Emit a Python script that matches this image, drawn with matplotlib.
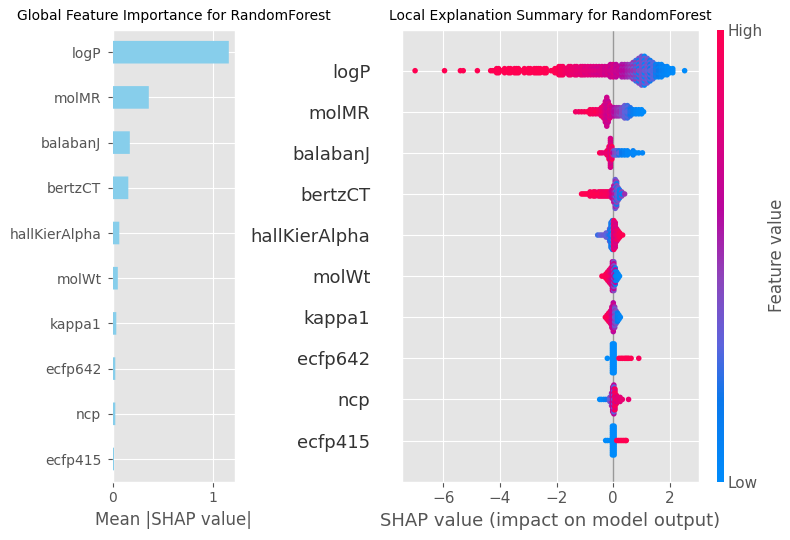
import matplotlib
matplotlib.use("Agg")
import matplotlib.pyplot as plt
from matplotlib.colors import LinearSegmentedColormap
from matplotlib.cm import ScalarMappable

features = ["logP", "molMR", "balabanJ", "bertzCT", "hallKierAlpha",
            "molWt", "kappa1", "ecfp642", "ncp", "ecfp415"]
mean_abs = [1.16, 0.36, 0.17, 0.155, 0.065, 0.05, 0.035, 0.025, 0.025, 0.012]

# Beeswarm: SHAP value, half stack height, feature values
logp_x = [-7.0, -5.96, -5.4, -5.3, -4.8, -4.33, -4.26, -4.19, -4.12, -4.05, -3.98, -3.91, -3.84, -3.77, -3.7, -3.63, -3.56, -3.49, -3.42, -3.35, -3.28, -3.21,
          -3.14, -3.07, -3.0, -2.93, -2.86, -2.79, -2.72, -2.65, -2.58, -2.51, -2.44, -2.37,
          -2.2, -2.13, -2.06, -1.99, -1.92, -1.85, -1.78, -1.71, -1.64, -1.57, -1.5, -1.43, -1.36, -1.29, -1.22, -1.15, -1.08, -1.0, -0.9, -0.8, -0.7, -0.6, -0.5, -0.4, -0.3, -0.2, -0.1, 0.0,
          0.1, 0.2, 0.3, 0.4, 0.5, 0.6, 0.7, 0.8, 0.9, 1.0, 1.1, 1.2, 1.3, 1.4, 1.5, 1.6, 1.7, 1.8, 1.9, 2.0, 2.1, 2.52]
logp_k = [0, 0, 0, 0, 0, 0, 0, 0, 1, 1, 0, 0, 1, 0, 1, 1, 0, 1, 1, 1, 0, 0,
          1, 0, 1, 1, 0, 1, 1, 1, 1, 0, 1, 1,
          0, 0, 1, 1, 2, 2, 2, 1, 1, 2, 2, 1, 2, 2, 1, 2, 2, 2, 2, 2, 2, 2, 2, 2, 2, 2, 3, 3,
          3, 2, 3, 3, 3, 3, 4, 5, 6, 7, 7, 6, 5, 4, 3, 3, 3, 2, 2, 1, 1, 0]
logp_f = [1, 1, 1, 1, 1, 1, 1, 1, 1, 1, 1, 1, 1, 1, 1, 1, 1, 1, 1, 1, 1, 1,
          1, 1, 1, 1, 1, 1, 1, 1, 1, 1, 1, 1,
          1, 1, 1, .98, .97, .95, .95, .93, .9, .9, .88, .87, .85, .85, .84, .83, .82, .82, .8, .8, .78, .78, .75, .75, .72, .72, .72, .7,
          .68, .65, .62, .6, .55, .52, .5, .48, .42, .4, .35, .32, .3, .28, .22, .18, .12, .08, .05, .03, .02, 0]
logp_g = [1, 1, 1, 1, 1, 1, 1, 1, 1, 1, 1, 1, 1, 1, 1, 1, 1, 1, 1, 1, 1, 1,
          1, 1, 1, 1, 1, 1, 1, 1, 1, 1, 1, 1,
          1, 1, 1, 1, 1, .9, .95, .9, .9, .85, .9, .82, .85, .8, .82, .78, .85, .75, .8, .75, .72, .7, .7, .75, .68, .75, .65, .75,
          .62, .7, .55, .55, .5, .45, .35, .25, .1, .38, .05, .4, .15, .3, .1, .1, .05, .05, .02, 0, 0, 0]

molmr_x = [-1.33, -1.22, -1.12, -1.02, -0.92, -0.82, -0.72, -0.62, -0.52, -0.42, -0.34, -0.28, -0.23, -0.18, -0.12, -0.05,
           0.03, 0.12, 0.2, 0.3, 0.4, 0.5, 0.6, 0.7, 0.8, 0.9, 1.0, 1.07]
molmr_k = [0, 0, 0, 0, 0, 1, 1, 1, 1, 2, 3, 5, 7, 5, 3, 2, 2, 2, 2, 2, 3, 3, 2, 1, 1, 1, 1, 0]
molmr_f = [.9, .9, .95, .95, 1, 1, .95, 1, .95, .9, .85, .75, .72, .72, .72, .68, .6, .52, .5, .42, .3, .3, .22, .12, .05, .03, .02, 0]
molmr_g = [.9, .9, .9, .95, .95, .95, .95, .9, .9, .8, .8, .7, .68, .65, .8, .75, .55, .5, .45, .38, .35, .25, .15, .1, .05, 0, 0, 0]

bal_x = [-0.48, -0.4, -0.3, -0.22, -0.15, -0.1, -0.05, 0.0, 0.06, 0.12, 0.2, 0.3, 0.4, 0.5, 0.6, 0.7, 0.8, 0.9, 1.03]
bal_k = [0, 0, 0, 1, 3, 7, 3, 1, 1, 1, 1, 1, 1, 1, 0, 1, 0, 0, 0]
bal_f = [1, .85, .85, .85, .82, .78, .85, .6, .45, .38, .3, .18, .12, .05, .04, .03, .03, .02, .05]
bal_g = [1, .9, .8, .9, 1, .72, 1, .45, .3, .3, .2, .1, .05, .05, .1, .1, .05, 0, .05]

bertz_x = [-1.12, -1.06, -1.0, -0.94, -0.88, -0.82, -0.76, -0.7, -0.64, -0.58, -0.52, -0.46, -0.4, -0.34, -0.28, -0.22, -0.16, -0.1, -0.05, 0.02, 0.07, 0.12, 0.17, 0.22, 0.3, 0.4]
bertz_k = [0, 0, 0, 0, 0, 1, 0, 1, 1, 0, 1, 1, 1, 1, 1, 1, 1, 1, 2, 4, 7, 6, 3, 2, 1, 0]
bertz_f = [1, 1, 1, 1, 1, 1, 1, 1, 1, 1, 1, 1, .97, .97, .95, .95, .92, .9, .75, .72, .55, .45, .3, .2, .1, .5]
bertz_g = [1, 1, 1, 1, 1, .95, 1, 1, .95, 1, .9, 1, .9, .95, .9, .95, .95, .8, .65, .55, .35, .2, .4, .1, .45, .55]

hall_x = [-0.55, -0.47, -0.4, -0.32, -0.25, -0.18, -0.13, -0.08, -0.03, 0.02, 0.07, 0.12, 0.17, 0.23, 0.33]
hall_k = [0, 0, 0, 0, 1, 1, 3, 6, 7, 7, 6, 3, 2, 1, 0]
hall_f = [.25, .3, .33, .35, .3, .25, .2, .2, .3, .7, .8, .9, .9, .95, 1]
hall_g = [.25, .3, .35, .3, .35, .3, .35, .1, .15, .95, .72, .75, .85, 1, 1]

wt_x = [-0.4, -0.33, -0.26, -0.2, -0.14, -0.08, -0.03, 0.02, 0.07, 0.12, 0.17, 0.22]
wt_k = [0, 0, 1, 2, 3, 4, 7, 7, 4, 2, 1, 0]
wt_f = [1, 1, .98, .95, .95, .9, .72, .65, .12, .05, .03, .02]
wt_g = [1, .95, 1, 1, .85, .75, .6, .4, .6, .2, .05, .02]

kap_x = [-0.28, -0.22, -0.16, -0.1, -0.05, 0.0, 0.05, 0.1, 0.15, 0.2, 0.25]
kap_k = [0, 1, 2, 3, 5, 7, 5, 3, 2, 1, 0]
kap_f = [1, 1, .98, .9, .78, .7, .35, .28, .15, .1, .05]
kap_g = [1, .95, .9, .8, .7, .6, .5, .4, .1, .05, .1]

ec6_x = [-0.21, -0.03, 0.03, 0.2, 0.27, 0.33, 0.4, 0.45, 0.5, 0.55, 0.63, 0.9]
ec6_k = [0, 7, 7, 0, 0, 0, 0, 0, 0, 0, 0, 0]
ec6_f = [0, 0, 0, 1, 1, 1, 1, 1, 1, 1, 1, .95]
ec6_g = [0, 0, 0, 1, 1, 1, 1, 1, 1, 1, 1, .95]

ncp_x = [-0.48, -0.42, -0.34, -0.27, -0.2, -0.12, -0.06, -0.02, 0.02, 0.06, 0.11, 0.17, 0.24, 0.32, 0.54]
ncp_k = [0, 0, 0, 0, 0, 1, 3, 6, 7, 5, 2, 1, 1, 0, 0]
ncp_f = [0, 0, .05, .1, .2, .3, .35, .72, .3, .8, .95, .8, .85, .85, .85]
ncp_g = [0, 0, 0, .25, .1, .4, .55, .6, .62, 1, .7, .85, .8, .85, .85]

ec4_x = [-0.27, -0.2, -0.12, -0.03, 0.03, 0.12, 0.18, 0.24, 0.3, 0.36, 0.42, 0.46]
ec4_k = [0, 0, 0, 7, 7, 0, 0, 0, 0, 0, 0, 0]
ec4_f = [0, 0, 0, 0, 0, 1, 1, 1, 1, 1, 1, 1]
ec4_g = [0, 0, 0, 0, 0, 1, 1, 1, 1, 1, 1, 1]

rows = [(logp_x, logp_k, logp_f, logp_g), (molmr_x, molmr_k, molmr_f, molmr_g),
        (bal_x, bal_k, bal_f, bal_g), (bertz_x, bertz_k, bertz_f, bertz_g),
        (hall_x, hall_k, hall_f, hall_g), (wt_x, wt_k, wt_f, wt_g),
        (kap_x, kap_k, kap_f, kap_g), (ec6_x, ec6_k, ec6_f, ec6_g),
        (ncp_x, ncp_k, ncp_f, ncp_g), (ec4_x, ec4_k, ec4_f, ec4_g)]

plt.style.use("ggplot")
plt.rcParams["font.family"] = "DejaVu Sans"
cmap = LinearSegmentedColormap.from_list(
    "red_blue", [(0, "#008bfb"), (.18, "#0a78ec"), (.3, "#5c64dd"), (.45, "#8d45bb"),
                 (.6, "#b8069e"), (.8, "#e30078"), (1, "#ff0051")])

W, H = 790, 540
fig = plt.figure(figsize=(W / 100, H / 100), dpi=100)


def box(x0, x1, y0, y1):
    return [x0 / W, 1 - y1 / H, (x1 - x0) / W, (y1 - y0) / H]


# Left: global importance
ax1 = fig.add_axes(box(112.8, 234.8, 29.6, 481.6))
pos = list(range(len(features)))[::-1]
bars = ax1.barh(pos, mean_abs, height=0.5, color="skyblue", zorder=3)
for bar in bars:
    bar.set_snap(False)
ax1.set_yticks(pos)
ax1.set_yticklabels(features, fontsize=10)
ax1.set_ylim(-0.5, 9.5)
ax1.set_xlim(0, 1.22)
ax1.set_xticks([0, 1])
ax1.tick_params(axis="x", labelsize=10)
ax1.tick_params(axis="y", pad=4.7)
ax1.set_xlabel("Mean |SHAP value|", fontsize=12, labelpad=4)
ax1.set_title("Global Feature Importance for RandomForest", fontsize=10, color="black", pad=7)

# Right: beeswarm
ax2 = fig.add_axes(box(401.5, 698.5, 29.6, 481.6))
STEP = 0.05
ax2.axvline(0, color="#999999", lw=1, zorder=1)
for y, (xs, ks, fa, fb) in zip(pos, rows):
    px, py, pc = [], [], []
    for x, k, a, b in zip(xs, ks, fa, fb):
        for lev in range(k, -1, -1):
            for sign in ((1, -1) if lev else (1,)):
                px.append(x)
                py.append(y + sign * lev * STEP)
                pc.append(b if lev % 2 else a)
    ax2.scatter(px, py, c=pc, cmap=cmap, vmin=0, vmax=1, s=16, linewidths=0, zorder=3)
ax2.set_xlim(-7.48, 3.01)
ax2.set_ylim(-1, 10)
ax2.set_yticks(pos)
ax2.set_yticklabels(features, fontsize=13, color="#333333")
ax2.tick_params(axis="y", length=0, pad=22.4)
ax2.set_xticks([-6, -4, -2, 0, 2])
ax2.tick_params(axis="x", labelsize=11)
ax2.set_xlabel("SHAP value (impact on model output)", fontsize=13, labelpad=4)
ax2.set_title("Local Explanation Summary for RandomForest", fontsize=10, color="black", pad=7)

# Colour bar
cax = fig.add_axes(box(717, 724, 29.6, 481.6))
cb = fig.colorbar(ScalarMappable(cmap=cmap), cax=cax, ticks=[0, 1])
cb.set_ticklabels(["Low", "High"])
cb.ax.tick_params(labelsize=11, length=0, pad=2.5)
cb.set_label("Feature value", size=12, labelpad=4)
cb.outline.set_visible(False)

fig.savefig("out.png", dpi=100)
